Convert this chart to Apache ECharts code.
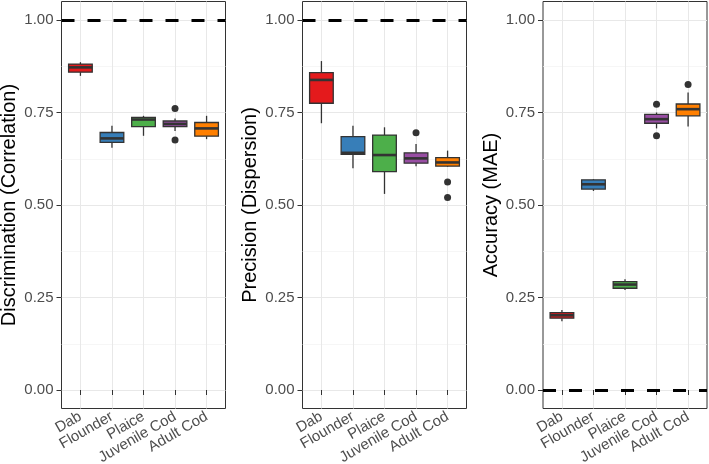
<!DOCTYPE html>
<html>
<head>
<meta charset="utf-8">
<script src="https://cdn.jsdelivr.net/npm/echarts@6/dist/echarts.min.js"></script>
<style>
    html, body {margin: 0; padding: 0; background: #fff;}
    #chart {width: 709px; height: 464px;}
</style>
</head>
<body>
<div id="chart"></div>
<script>
    // categories and colours
    var species = ['Dab', 'Flounder', 'Plaice', 'Juvenile Cod', 'Adult Cod'];
    var fills = ['#E41A1C', '#377EB8', '#4DAF4A', '#984EA3', '#FF7F00'];
    var yTicks = [0, 0.25, 0.5, 0.75, 1];
    var yMinor = [0.125, 0.375, 0.625, 0.875];

    // box stats per species: [min, q1, median, q3, max]
    var discrimination = [
        [0.849, 0.859, 0.872, 0.881, 0.886],
        [0.655, 0.669, 0.680, 0.696, 0.714],
        [0.687, 0.712, 0.731, 0.737, 0.741],
        [0.700, 0.712, 0.719, 0.727, 0.734],
        [0.678, 0.686, 0.707, 0.723, 0.741]
    ];
    var precision = [
        [0.721, 0.775, 0.838, 0.858, 0.889],
        [0.599, 0.637, 0.641, 0.685, 0.714],
        [0.530, 0.590, 0.635, 0.689, 0.710],
        [0.605, 0.613, 0.626, 0.641, 0.665],
        [0.603, 0.605, 0.615, 0.628, 0.647]
    ];
    var accuracy = [
        [0.186, 0.194, 0.202, 0.209, 0.216],
        [0.538, 0.543, 0.556, 0.568, 0.570],
        [0.270, 0.275, 0.285, 0.293, 0.299],
        [0.707, 0.721, 0.732, 0.745, 0.750],
        [0.712, 0.741, 0.759, 0.773, 0.804]
    ];

    // outliers: [species index, value]
    var discOutliers = [[3, 0.761], [3, 0.676]];
    var precOutliers = [[3, 0.695], [4, 0.562], [4, 0.520]];
    var accOutliers = [[3, 0.772], [3, 0.687], [4, 0.826]];

    var titles = ['Discrimination (Correlation)', 'Precision (Dispersion)', 'Accuracy (MAE)'];
    var refLines = [1, 1, 0];
    var panels = [discrimination, precision, accuracy];
    var outliers = [discOutliers, precOutliers, accOutliers];

    var font = 'Liberation Sans, Arial, Helvetica, sans-serif';
    var gridLefts = [61.5, 302.5, 543];

    function renderBox(params, api) {
        var x = api.value(0);
        var lo = api.coord([x, api.value(1)]);
        var q1 = api.coord([x, api.value(2)]);
        var md = api.coord([x, api.value(3)]);
        var q3 = api.coord([x, api.value(4)]);
        var hi = api.coord([x, api.value(5)]);
        var w = api.size([0.75, 0])[0];
        var line = {stroke: '#333', lineWidth: 1.3};
        return {
            type: 'group',
            children: [
                {type: 'line', shape: {x1: lo[0], y1: lo[1], x2: q1[0], y2: q1[1]}, style: line},
                {type: 'line', shape: {x1: q3[0], y1: q3[1], x2: hi[0], y2: hi[1]}, style: line},
                {type: 'rect', shape: {x: q3[0] - w / 2, y: q3[1], width: w, height: q1[1] - q3[1]},
                    style: {fill: fills[params.dataIndex], stroke: '#333', lineWidth: 1.3}},
                {type: 'line', shape: {x1: md[0] - w / 2, y1: md[1], x2: md[0] + w / 2, y2: md[1]},
                    style: {stroke: '#333', lineWidth: 2.6}}
            ]
        };
    }

    var grid = [], xAxis = [], yAxis = [], series = [];
    panels.forEach(function (stats, p) {
        grid.push({
            left: gridLefts[p], top: 1.5, width: 164, height: 407,
            outerBoundsMode: 'none', containLabel: false,
            show: true, borderColor: '#333', borderWidth: 1, backgroundColor: '#fff'
        });
        xAxis.push({
            type: 'value', gridIndex: p, min: -0.6, max: 4.6, position: 'bottom',
            axisLine: {show: false},
            axisTick: {show: true, length: 5, customValues: [0, 1, 2, 3, 4], lineStyle: {color: '#333', width: 1}},
            axisLabel: {
                customValues: [0, 1, 2, 3, 4], rotate: 30, margin: 7, hideOverlap: false,
                fontFamily: font, fontSize: 15, color: '#4d4d4d',
                formatter: function (v) { return species[Math.round(v)]; }
            },
            splitLine: {show: true, lineStyle: {color: '#e8e8e8', width: 1}}
        });
        // minor grid
        yAxis.push({
            type: 'value', gridIndex: p, min: -0.05, max: 1.05, position: 'left',
            axisLine: {show: false}, axisLabel: {show: false},
            axisTick: {show: false, customValues: yMinor},
            splitLine: {show: true, lineStyle: {color: '#f2f2f2', width: 0.7}}
        });
        // major grid + labels
        yAxis.push({
            type: 'value', gridIndex: p, min: -0.05, max: 1.05, position: 'left',
            name: titles[p], nameLocation: 'middle', nameRotate: 90, nameGap: 42,
            nameTextStyle: {fontFamily: font, fontSize: 20, color: '#000'},
            axisLine: {show: false},
            axisTick: {show: true, length: 5, customValues: yTicks, lineStyle: {color: '#333', width: 1}},
            axisLabel: {
                customValues: yTicks, margin: 8,
                fontFamily: font, fontSize: 15, color: '#4d4d4d',
                formatter: function (v) { return v.toFixed(2); }
            },
            splitLine: {show: true, lineStyle: {color: '#e8e8e8', width: 1}}
        });
        series.push({
            type: 'custom', xAxisIndex: p, yAxisIndex: p * 2 + 1,
            renderItem: renderBox,
            data: stats.map(function (s, i) { return [i].concat(s); }),
            z: 3
        });
        series.push({
            type: 'scatter', xAxisIndex: p, yAxisIndex: p * 2 + 1,
            symbolSize: 7, itemStyle: {color: '#333', opacity: 1},
            data: outliers[p],
            z: 4,
            markLine: {
                silent: true, symbol: 'none', label: {show: false},
                lineStyle: {color: '#000', width: 3, type: [13, 13]},
                data: [{yAxis: refLines[p]}]
            }
        });
    });

    var chart = echarts.init(document.getElementById('chart'));
    chart.setOption({
        animation: false,
        backgroundColor: '#fff',
        grid: grid,
        xAxis: xAxis,
        yAxis: yAxis,
        series: series
    });
</script>
</body>
</html>
